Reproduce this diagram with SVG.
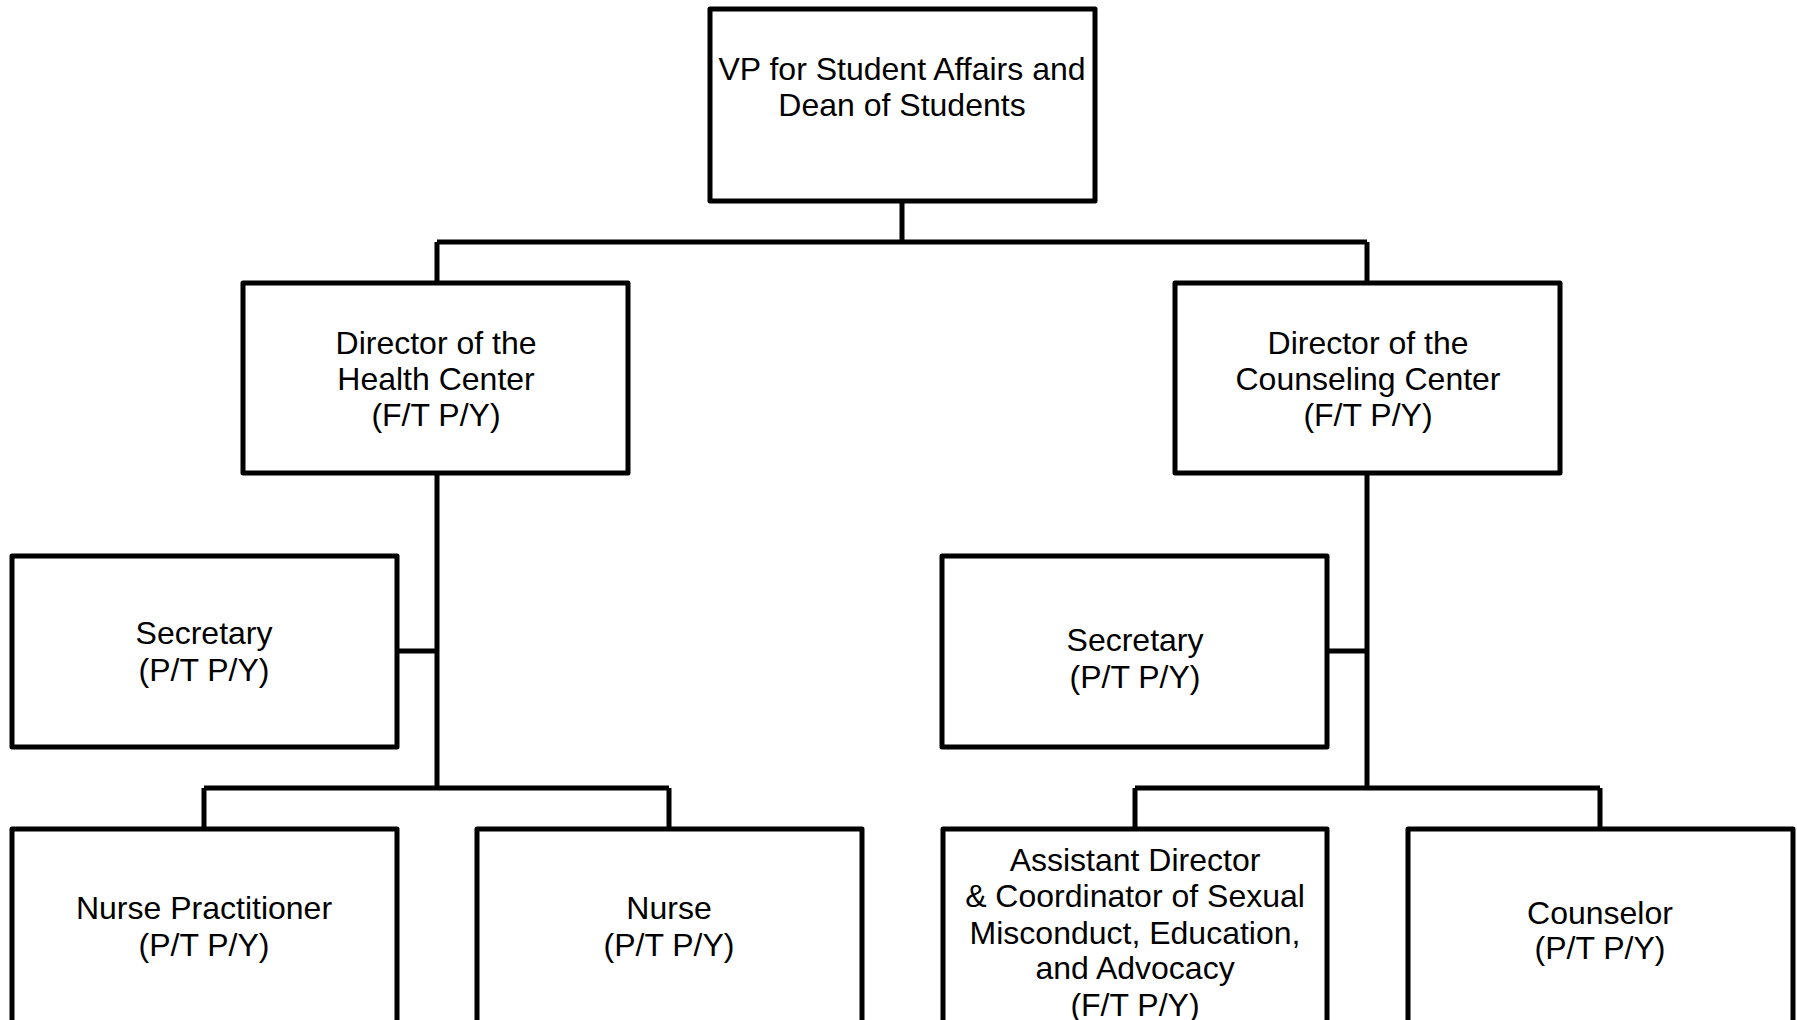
<svg xmlns="http://www.w3.org/2000/svg" width="1797" height="1020" viewBox="0 0 1797 1020">
<style>
.box{fill:#fff;stroke:#000;stroke-width:5;stroke-linejoin:round}
.ln{fill:none;stroke:#000;stroke-width:5}
text{font-family:"Liberation Sans",Arial,sans-serif;font-size:32px;fill:#000;text-anchor:middle}
</style>
<rect width="1797" height="1020" fill="#fff"/>
<g id="connectors">
<path class="ln" d="M902 201V242M437 242H1367M437 242V283M1367 242V283"/>
<path class="ln" d="M437 473V788M397 651H437M204 788H669M204 788V829M669 788V829"/>
<path class="ln" d="M1367 473V788M1327 651H1367M1135 788H1600M1135 788V829M1600 788V829"/>
</g>
<g id="vp">
<rect class="box" x="710" y="9" width="385" height="192"/>
<text x="902" y="80">VP for Student Affairs and</text>
<text x="902" y="116">Dean of Students</text>
</g>
<g id="dir-health">
<rect class="box" x="243" y="283" width="385" height="190"/>
<text x="436" y="354">Director of the</text>
<text x="436" y="390">Health Center</text>
<text x="436" y="426">(F/T P/Y)</text>
</g>
<g id="dir-counsel">
<rect class="box" x="1175" y="283" width="385" height="190"/>
<text x="1368" y="354">Director of the</text>
<text x="1368" y="390">Counseling Center</text>
<text x="1368" y="426">(F/T P/Y)</text>
</g>
<g id="sec-health">
<rect class="box" x="12" y="556" width="385" height="191"/>
<text x="204" y="644">Secretary</text>
<text x="204" y="681">(P/T P/Y)</text>
</g>
<g id="sec-counsel">
<rect class="box" x="942" y="556" width="385" height="191"/>
<text x="1135" y="651">Secretary</text>
<text x="1135" y="688">(P/T P/Y)</text>
</g>
<g id="nurse-pract">
<rect class="box" x="12" y="829" width="385" height="200"/>
<text x="204" y="919">Nurse Practitioner</text>
<text x="204" y="956">(P/T P/Y)</text>
</g>
<g id="nurse">
<rect class="box" x="477" y="829" width="385" height="200"/>
<text x="669" y="919">Nurse</text>
<text x="669" y="956">(P/T P/Y)</text>
</g>
<g id="asst-dir">
<rect class="box" x="943" y="829" width="384" height="200"/>
<text x="1135" y="871">Assistant Director</text>
<text x="1135" y="907">&amp; Coordinator of Sexual</text>
<text x="1135" y="944">Misconduct, Education,</text>
<text x="1135" y="979">and Advocacy</text>
<text x="1135" y="1016">(F/T P/Y)</text>
</g>
<g id="counselor">
<rect class="box" x="1408" y="829" width="385" height="200"/>
<text x="1600" y="924">Counselor</text>
<text x="1600" y="959">(P/T P/Y)</text>
</g>
</svg>
